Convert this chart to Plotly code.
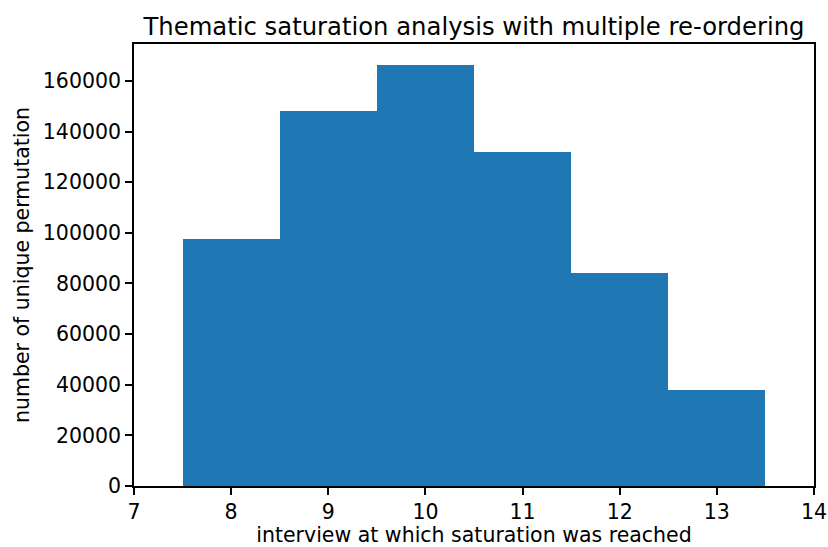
import plotly.graph_objects as go

# Histogram of the interview index at which thematic saturation was reached
interview = [8, 9, 10, 11, 12, 13]
permutations = [97400, 148100, 166300, 131900, 84100, 38100]

x_ticks = [7, 8, 9, 10, 11, 12, 13, 14]
y_ticks = [0, 20000, 40000, 60000, 80000, 100000, 120000, 140000, 160000]

font = "DejaVu Sans"

fig = go.Figure(
    go.Bar(
        x=interview,
        y=permutations,
        width=1,
        marker=dict(color="#1f77b4", line=dict(width=0)),
    )
)

fig.update_layout(
    width=828,
    height=547,
    margin=dict(l=134, r=14, t=44, b=61),
    paper_bgcolor="white",
    plot_bgcolor="white",
    showlegend=False,
    bargap=0,
    font=dict(family=font, color="black", size=20.5),
    title=dict(
        text="Thematic saturation analysis with multiple re-ordering",
        x=0.5,
        xanchor="center",
        xref="paper",
        y=1,
        yref="paper",
        yanchor="bottom",
        pad=dict(b=9),
        font=dict(family=font, size=24.3, color="black"),
    ),
)

fig.update_xaxes(
    range=[7, 14],
    tickvals=x_ticks,
    ticks="outside",
    ticklen=7,
    tickwidth=1.6,
    tickcolor="black",
    showline=True,
    linewidth=1.6,
    linecolor="black",
    mirror=True,
    showgrid=False,
    zeroline=False,
    automargin=False,
    tickfont=dict(size=20.5),
    title=dict(text="interview at which saturation was reached", font=dict(size=20.5), standoff=6),
)

fig.update_yaxes(
    range=[0, 174600],
    tickvals=y_ticks,
    tickformat="d",
    ticks="outside",
    ticklen=7,
    tickwidth=1.6,
    tickcolor="black",
    showline=True,
    linewidth=1.6,
    linecolor="black",
    mirror=True,
    showgrid=False,
    zeroline=False,
    automargin=False,
    tickfont=dict(size=20.5),
    title=dict(text="number of unique permutation", font=dict(size=20.5), standoff=8),
)

fig.write_html("out.html")
